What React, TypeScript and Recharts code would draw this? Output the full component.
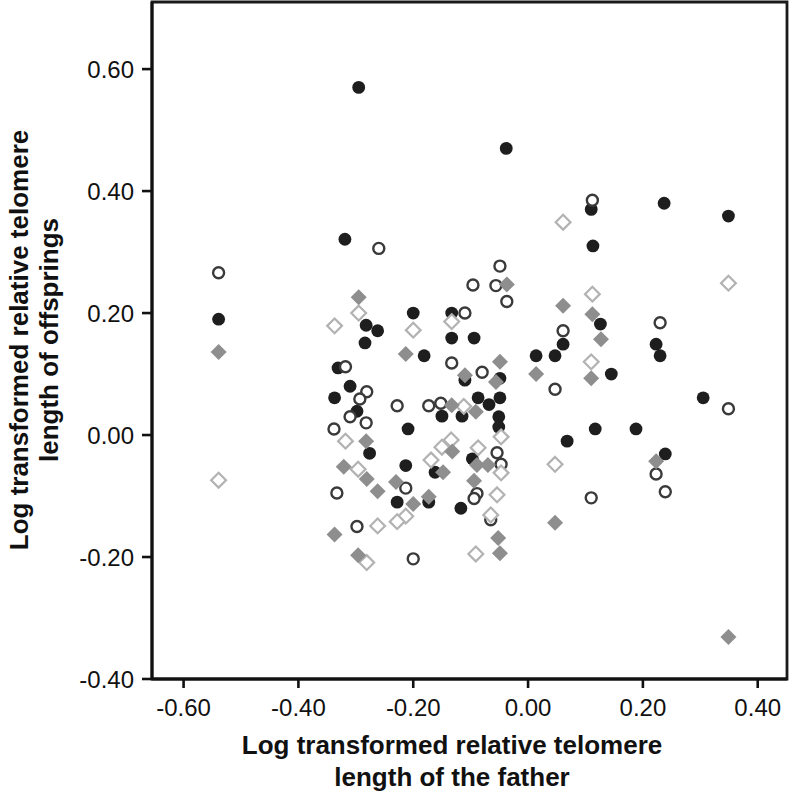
import { ScatterChart, Scatter, XAxis, YAxis, ReferenceArea } from 'recharts'

// father (x) vs offspring (y), log transformed relative telomere length
const blackDots = [
  { x: -0.295, y: 0.570 }, { x: -0.038, y: 0.470 }, { x: -0.319, y: 0.321 }, { x: 0.110, y: 0.370 },
  { x: 0.237, y: 0.380 }, { x: 0.349, y: 0.359 }, { x: 0.113, y: 0.310 }, { x: -0.539, y: 0.190 },
  { x: -0.282, y: 0.180 }, { x: -0.262, y: 0.171 }, { x: -0.284, y: 0.151 }, { x: -0.200, y: 0.200 },
  { x: -0.181, y: 0.130 }, { x: -0.133, y: 0.200 }, { x: -0.133, y: 0.159 }, { x: -0.094, y: 0.159 },
  { x: -0.331, y: 0.110 }, { x: -0.310, y: 0.080 }, { x: -0.337, y: 0.061 }, { x: -0.298, y: 0.039 },
  { x: -0.209, y: 0.010 }, { x: -0.150, y: 0.031 }, { x: -0.115, y: 0.031 }, { x: -0.110, y: 0.090 },
  { x: -0.049, y: 0.093 }, { x: -0.087, y: 0.061 }, { x: -0.068, y: 0.050 }, { x: -0.049, y: 0.061 },
  { x: -0.051, y: 0.030 }, { x: -0.051, y: 0.013 }, { x: 0.014, y: 0.130 }, { x: 0.047, y: 0.130 },
  { x: 0.061, y: 0.149 }, { x: 0.126, y: 0.182 }, { x: 0.223, y: 0.149 }, { x: 0.230, y: 0.130 },
  { x: 0.145, y: 0.100 }, { x: 0.305, y: 0.061 }, { x: 0.117, y: 0.010 }, { x: 0.188, y: 0.010 },
  { x: 0.068, y: -0.010 }, { x: 0.239, y: -0.031 }, { x: -0.276, y: -0.030 }, { x: -0.097, y: -0.039 },
  { x: -0.213, y: -0.050 }, { x: -0.162, y: -0.061 }, { x: -0.228, y: -0.110 }, { x: -0.173, y: -0.110 },
  { x: -0.117, y: -0.120 },
]

const openCircles = [
  { x: -0.539, y: 0.266 }, { x: -0.260, y: 0.306 }, { x: 0.112, y: 0.385 }, { x: -0.049, y: 0.277 },
  { x: -0.096, y: 0.246 }, { x: -0.056, y: 0.245 }, { x: -0.037, y: 0.219 }, { x: -0.110, y: 0.200 },
  { x: 0.061, y: 0.171 }, { x: 0.230, y: 0.184 }, { x: -0.133, y: 0.118 }, { x: -0.080, y: 0.103 },
  { x: 0.047, y: 0.075 }, { x: 0.349, y: 0.043 }, { x: -0.318, y: 0.112 }, { x: -0.281, y: 0.071 },
  { x: -0.293, y: 0.059 }, { x: -0.310, y: 0.030 }, { x: -0.282, y: 0.020 }, { x: -0.228, y: 0.048 },
  { x: -0.173, y: 0.048 }, { x: -0.152, y: 0.052 }, { x: -0.338, y: 0.010 }, { x: -0.054, y: -0.029 },
  { x: -0.047, y: -0.048 }, { x: -0.333, y: -0.095 }, { x: -0.213, y: -0.087 }, { x: -0.089, y: -0.096 },
  { x: -0.094, y: -0.104 }, { x: -0.065, y: -0.139 }, { x: -0.298, y: -0.150 }, { x: -0.200, y: -0.203 },
  { x: 0.110, y: -0.103 }, { x: 0.223, y: -0.064 }, { x: 0.239, y: -0.093 },
]

const grayDiamonds = [
  { x: -0.539, y: 0.136 }, { x: -0.295, y: 0.226 }, { x: -0.213, y: 0.133 }, { x: -0.037, y: 0.247 },
  { x: 0.061, y: 0.212 }, { x: 0.112, y: 0.198 }, { x: 0.127, y: 0.157 }, { x: -0.049, y: 0.120 },
  { x: -0.110, y: 0.098 }, { x: -0.056, y: 0.087 }, { x: 0.014, y: 0.100 }, { x: 0.110, y: 0.093 },
  { x: -0.133, y: 0.049 }, { x: -0.091, y: 0.038 }, { x: -0.282, y: -0.010 }, { x: -0.132, y: -0.027 },
  { x: -0.321, y: -0.052 }, { x: -0.148, y: -0.061 }, { x: -0.281, y: -0.072 }, { x: -0.262, y: -0.092 },
  { x: -0.230, y: -0.077 }, { x: -0.200, y: -0.113 }, { x: -0.173, y: -0.101 }, { x: -0.337, y: -0.163 },
  { x: -0.296, y: -0.197 }, { x: -0.089, y: -0.049 }, { x: -0.070, y: -0.049 }, { x: -0.094, y: -0.075 },
  { x: -0.052, y: -0.169 }, { x: -0.049, y: -0.194 }, { x: 0.047, y: -0.144 }, { x: 0.223, y: -0.043 },
  { x: 0.349, y: -0.331 },
]

const openDiamonds = [
  { x: -0.539, y: -0.074 }, { x: 0.061, y: 0.349 }, { x: 0.349, y: 0.249 }, { x: 0.112, y: 0.231 },
  { x: -0.295, y: 0.200 }, { x: -0.337, y: 0.179 }, { x: -0.200, y: 0.172 }, { x: -0.133, y: 0.186 },
  { x: 0.110, y: 0.120 }, { x: -0.112, y: 0.047 }, { x: -0.318, y: -0.010 }, { x: -0.134, y: -0.008 },
  { x: -0.150, y: -0.020 }, { x: -0.047, y: -0.003 }, { x: -0.087, y: -0.021 }, { x: -0.047, y: -0.062 },
  { x: -0.054, y: -0.098 }, { x: -0.065, y: -0.131 }, { x: -0.091, y: -0.195 }, { x: -0.169, y: -0.041 },
  { x: -0.296, y: -0.056 }, { x: -0.213, y: -0.133 }, { x: -0.228, y: -0.142 }, { x: -0.262, y: -0.149 },
  { x: -0.281, y: -0.209 }, { x: 0.047, y: -0.048 },
]

const xTicks = [-0.6, -0.4, -0.2, 0, 0.2, 0.4]
const yTicks = [-0.4, -0.2, 0, 0.2, 0.4, 0.6]
const xDomain = [-0.655, 0.451]
const yDomain = [-0.4, 0.71]

const FONT = '"Liberation Sans", Arial, Helvetica, sans-serif'

const BlackDot = (p: any) => <circle cx={p.cx} cy={p.cy} r={6.4} fill="#1e1e1e" />
const OpenDot = (p: any) => (
  <circle cx={p.cx} cy={p.cy} r={5.5} fill="#fff" stroke="#3a3a3a" strokeWidth={2.4} />
)
const diamondPath = (cx: number, cy: number, h: number) =>
  `M${cx},${cy - h}L${cx + h},${cy}L${cx},${cy + h}L${cx - h},${cy}Z`
const GrayDiamond = (p: any) => <path d={diamondPath(p.cx, p.cy, 8)} fill="#8e8e8e" />
const OpenDiamond = (p: any) => (
  <path d={diamondPath(p.cx, p.cy, 7.4)} fill="#fff" stroke="#b2b2b2" strokeWidth={2.2} />
)

const XTitle = () => (
  <text x={452} textAnchor="middle" fontFamily={FONT} fontWeight="bold" fontSize={26} fill="#111">
    <tspan x={452} y={754}>Log transformed relative telomere</tspan>
    <tspan x={452} y={786}>length of the father</tspan>
  </text>
)

const YTitle = () => (
  <text
    transform="translate(0,340) rotate(-90)"
    textAnchor="middle"
    fontFamily={FONT}
    fontWeight="bold"
    fontSize={26}
    fill="#111"
  >
    <tspan x={0} y={28}>Log transformed relative telomere</tspan>
    <tspan x={0} y={58}>length of offsprings</tspan>
  </text>
)

export default function App() {
  return (
    <div style={{ position: 'absolute', left: 0, top: 0, background: '#fff' }}>
      <ScatterChart width={791} height={795} margin={{ top: 2, right: 4, bottom: 0, left: 0 }}>
        <ReferenceArea
          x1={xDomain[0]}
          x2={xDomain[1]}
          y1={yDomain[0]}
          y2={yDomain[1]}
          fill="none"
          stroke="#1a1a1a"
          strokeWidth={2.8}
        />
        <XAxis
          type="number"
          dataKey="x"
          domain={xDomain}
          ticks={xTicks}
          allowDataOverflow
          height={116}
          tickSize={9}
          tickMargin={11}
          tickFormatter={(v: number) => v.toFixed(2)}
          axisLine={{ stroke: '#111', strokeWidth: 3 }}
          tickLine={{ stroke: '#111', strokeWidth: 2.6 }}
          tick={{ fill: '#111', fontSize: 24, fontFamily: FONT }}
          label={<XTitle />}
        />
        <YAxis
          type="number"
          dataKey="y"
          domain={yDomain}
          ticks={yTicks}
          allowDataOverflow
          width={152}
          tickSize={10}
          tickMargin={8}
          tickFormatter={(v: number) => v.toFixed(2)}
          axisLine={{ stroke: '#111', strokeWidth: 3 }}
          tickLine={{ stroke: '#111', strokeWidth: 2.6 }}
          tick={{ fill: '#111', fontSize: 24, fontFamily: FONT }}
          label={<YTitle />}
        />
        <Scatter data={blackDots} shape={BlackDot} isAnimationActive={false} />
        <Scatter data={openCircles} shape={OpenDot} isAnimationActive={false} />
        <Scatter data={openDiamonds} shape={OpenDiamond} isAnimationActive={false} />
        <Scatter data={grayDiamonds} shape={GrayDiamond} isAnimationActive={false} />
      </ScatterChart>
    </div>
  )
}
